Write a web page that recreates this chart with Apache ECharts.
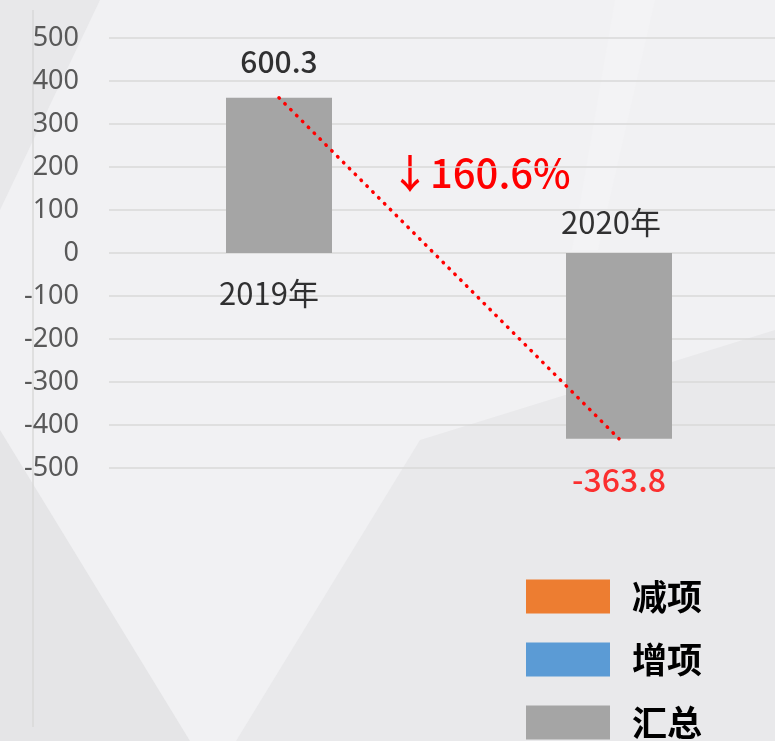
<!DOCTYPE html>
<html><head><meta charset="utf-8">
<script src="https://cdn.jsdelivr.net/npm/echarts@6/dist/echarts.min.js"></script>
<style>html,body{margin:0;padding:0;background:#f1f1f3;}#c{width:775px;height:741px;}</style>
</head><body><div id="c"></div>
<script>
var categories = ['2019年', '2020年'];
var totalValues = [361, -432];
var valueLabels = ['600.3', '-363.8'];
var changeText = '↓160.6%';
var legendNames = ['减项', '增项', '汇总'];
var yMin = -500, yMax = 500, yStep = 100;

var FONT = '"Noto Sans CJK SC", "Noto Sans", sans-serif';
var chart = echarts.init(document.getElementById('c'));
var option = {
  backgroundColor: '#f1f1f3',
  animation: false,
  graphic: [
    {type: 'polygon', z: -10, shape: {points: [[0,0],[100,0],[0,210]]}, style: {fill: '#e8e8ea'}},
    {type: 'polygon', z: -10, shape: {points: [[0,430],[190,741],[0,741]]}, style: {fill: '#e5e5e7'}},
    {type: 'polygon', z: -10, shape: {points: [[420,440],[775,330],[775,741],[236,741]]}, style: {fill: '#e9e9eb'}},
    {type: 'polygon', z: -10, shape: {points: [[615,0],[655,0],[598,250],[572,250]]}, style: {fill: '#f3f3f5'}},
    {type: 'line', shape: {x1: 33, y1: 10, x2: 33, y2: 727}, style: {stroke: '#d9d9d9', lineWidth: 1.5}},
    {type: 'text', left: 390, top: 153, style: {text: changeText, fill: '#ff0000', font: '500 40px ' + FONT}}
  ],
  grid: {left: 109, width: 680, top: 38, height: 430, outerBoundsMode: 'none', containLabel: false},
  legend: {
    data: legendNames, orient: 'vertical', left: 526, top: 579, padding: 0,
    itemWidth: 84, itemHeight: 34, itemGap: 28, icon: 'rect',
    textStyle: {fontSize: 35, fontWeight: 'bold', color: '#000', fontFamily: '"Noto Sans CJK SC"', padding: [0,0,0,17]}
  },
  xAxis: {
    type: 'category', data: categories,
    axisLine: {show: false}, axisTick: {show: false}, axisLabel: {show: false}
  },
  yAxis: {
    type: 'value', min: yMin, max: yMax, interval: yStep,
    axisLine: {show: false}, axisTick: {show: false},
    axisLabel: {color: '#595959', fontSize: 27, fontFamily: '"Noto Sans", sans-serif', margin: 30},
    splitLine: {lineStyle: {color: '#d9d9d9', width: 1.5}}
  },
  series: [
    {name: '减项', type: 'bar', stack: 'w', data: ['-', '-'], itemStyle: {color: '#ED7D31'}},
    {name: '增项', type: 'bar', stack: 'w', data: ['-', '-'], itemStyle: {color: '#5B9BD5'}},
    {name: '汇总', type: 'bar', stack: 'w', data: totalValues, barWidth: 106, itemStyle: {color: '#A5A5A5'}},
    {type: 'line', data: totalValues, symbol: 'none', z: 5,
      lineStyle: {color: '#ff0000', width: 3.5, type: [0.5, 7.8], cap: 'round'}},
    {type: 'scatter', symbolSize: 0, z: 6,
      data: [
        {value: totalValues[0], label: {formatter: valueLabels[0], color: '#000', fontSize: 30, offset: [0, -36]}},
        {value: totalValues[1], label: {formatter: valueLabels[1], color: '#ff0000', fontSize: 32, offset: [0, 41]}}
      ],
      label: {show: true, position: 'inside', fontFamily: FONT, fontWeight: 500}
    },
    {type: 'scatter', symbolSize: 0, z: 6,
      data: [
        {value: 0, label: {formatter: categories[0], offset: [-10, 40]}},
        {value: 0, label: {formatter: categories[1], offset: [-8, -31]}}
      ],
      label: {show: true, position: 'inside', color: '#000', fontSize: 31, fontFamily: FONT}
    }
  ]
};
chart.setOption(option);
</script></body></html>
